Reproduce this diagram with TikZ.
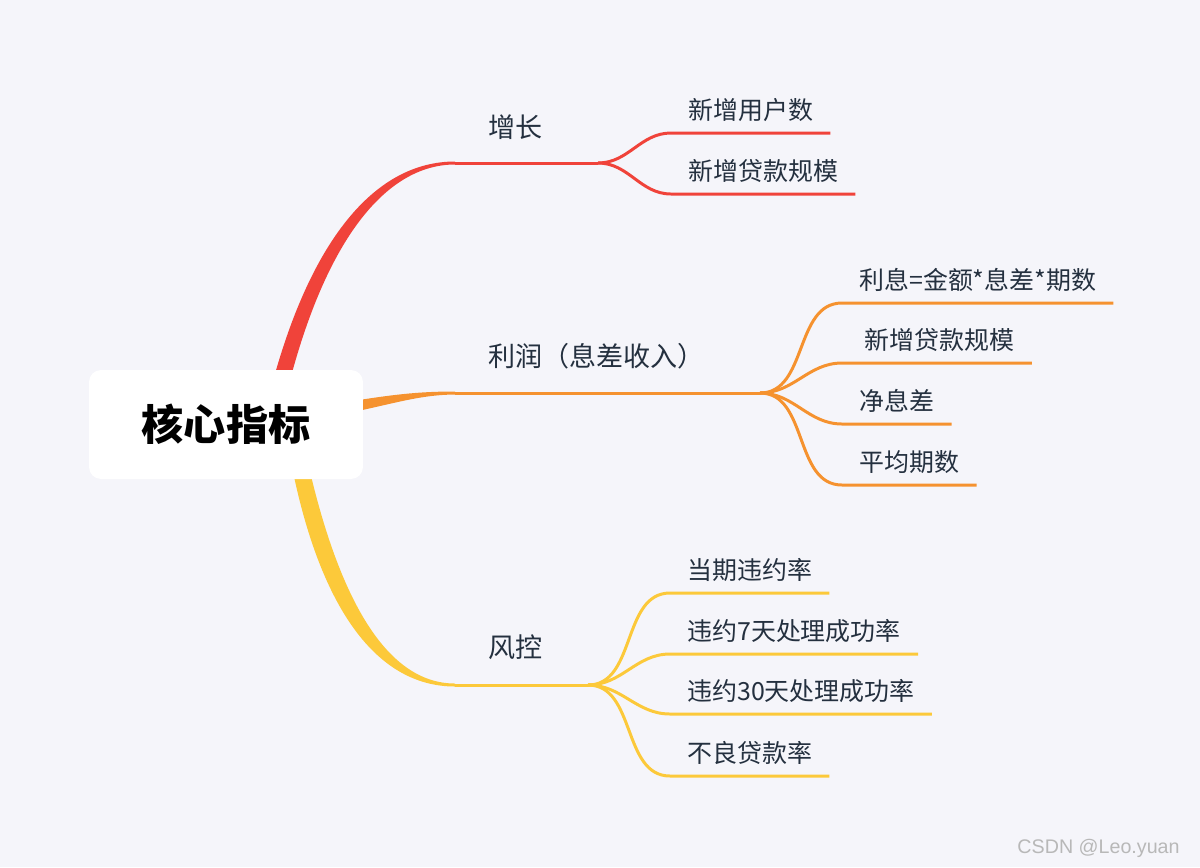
\documentclass[tikz,border=0pt]{standalone}
\usepackage{fontspec}
\usepackage{xcolor}
\usepackage{tikz}
\usetikzlibrary{positioning}
\newfontfamily\cjk{Noto Sans CJK SC}
\newfontfamily\wmfont{Liberation Sans}
\definecolor{bgcol}{HTML}{F5F5FA}
\definecolor{redbr}{HTML}{F0433A}
\definecolor{orangebr}{HTML}{F5922F}
\definecolor{yellowbr}{HTML}{FCC93A}
\definecolor{txtcol}{HTML}{24303F}

\begin{document}
\begin{tikzpicture}[
    x=0.02cm, y=-0.02cm,
    root/.style={rectangle, rounded corners=0.24cm, fill=white,
                minimum width=5.48cm, minimum height=2.18cm,
                font=\cjk\bfseries\fontsize{24pt}{28pt}\selectfont, text=black},
    topic/.style={anchor=west, inner sep=0pt,
                font=\cjk\fontsize{15.4pt}{19pt}\selectfont, text=txtcol},
    leaf/.style={anchor=south west, inner xsep=0.34cm, inner ysep=0.22cm,
                text height=0.88em, text depth=0.12em,
                font=\cjk\fontsize{14.2pt}{17pt}\selectfont, text=txtcol},
    twig/.style={line width=1.7pt}
]
\useasboundingbox (0,0) rectangle (1200,867);
\fill[bgcol] (0,0) rectangle (1200,867);

\coordinate (gk) at (455,163);
\coordinate (gs) at (598,163);
\coordinate (pk) at (455,393);
\coordinate (ps) at (760,393);
\coordinate (rk) at (455,685);
\coordinate (rs) at (588,685);

\fill[redbr] (268,400) .. controls (308,240) and (375,161.5) .. ([yshift=0.03cm]gk)
    -- ([yshift=-0.03cm]gk) .. controls (385,164.5) and (323,242) .. (285,400) -- cycle;
\fill[orangebr] (300,410) .. controls (380,396) and (410,391.5) .. ([yshift=0.03cm]pk)
    -- ([yshift=-0.03cm]pk) .. controls (410,395) and (385,408) .. (300,422) -- cycle;
\fill[yellowbr] (287,440) .. controls (315,605) and (375,686.5) .. ([yshift=-0.03cm]rk)
    -- ([yshift=0.03cm]rk) .. controls (385,683.5) and (335,595) .. (303,440) -- cycle;

\node[root] (core) at (226,424.5) {核心指标};

\node[topic] (grow) at (488,127) {增长};
\node[topic] (profit) at (488,356) {利润（息差收入）};
\node[topic] (risk) at (488,647) {风控};

\node[leaf] (g1) at (671,133) {新增用户数};
\node[leaf] (g2) at (671,194) {新增贷款规模};
\node[leaf] (p1) at (842,303) {利息=金额*息差*期数};
\node[leaf] (p2) at (842,363) {\ 新增贷款规模};
\node[leaf] (p3) at (842,424) {净息差};
\node[leaf] (p4) at (842,485) {平均期数};
\node[leaf] (r1) at (670,593) {当期违约率};
\node[leaf] (r2) at (670,654) {违约7天处理成功率};
\node[leaf] (r3) at (670,714) {违约30天处理成功率};
\node[leaf] (r4) at (670,776) {不良贷款率};

\draw[twig, redbr] (gk) -- (gs);
\foreach \n in {g1,g2}
    \draw[twig, redbr] (gs) to[out=0, in=180] (\n.south west) -- (\n.south east);
\draw[twig, orangebr] (pk) -- (ps);
\foreach \n in {p1,p2,p3,p4}
    \draw[twig, orangebr] (ps) to[out=0, in=180] (\n.south west) -- (\n.south east);
\draw[twig, yellowbr] (rk) -- (rs);
\foreach \n in {r1,r2,r3,r4}
    \draw[twig, yellowbr] (rs) to[out=0, in=180] (\n.south west) -- (\n.south east);

\node[anchor=east, inner sep=0pt, font=\wmfont\fontsize{11.2pt}{14pt}\selectfont, text=black!28] (mark) at (1180,848) {CSDN @Leo.yuan};
\end{tikzpicture}
\end{document}
